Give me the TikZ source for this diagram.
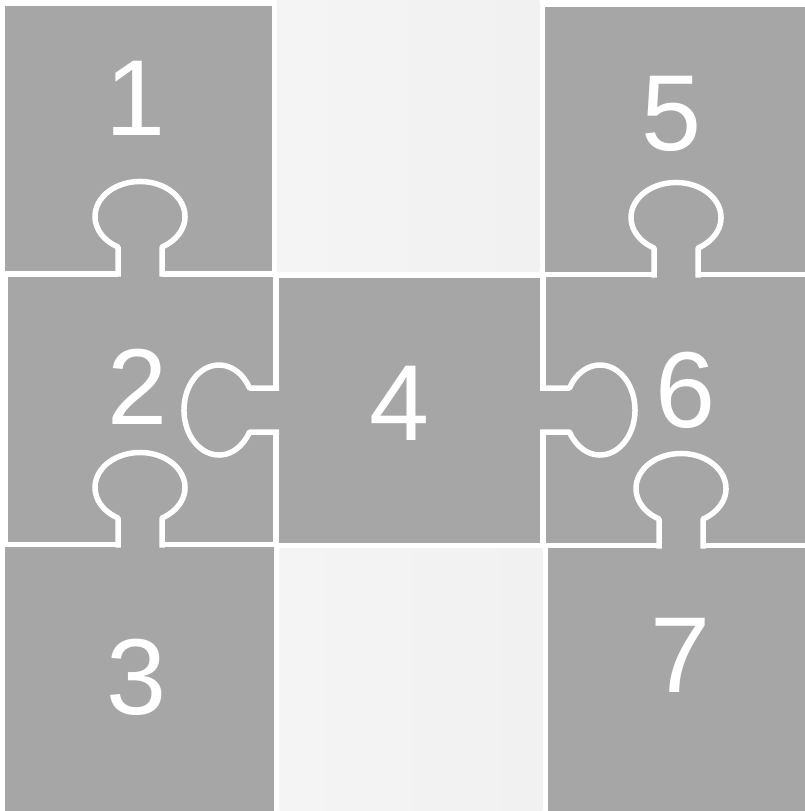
\documentclass[tikz,border=0pt]{standalone}
\usepackage{fontspec}
\newfontfamily\numfamily{Liberation Sans}
\definecolor{pieceGray}{HTML}{A6A6A6}
\definecolor{emptyL}{HTML}{F4F4F4}
\definecolor{emptyR}{HTML}{F1F1F1}
\tikzset{
  piecefill/.style={fill=pieceGray},
  emptycell/.style={left color=emptyL, right color=emptyR, draw=none, rounded corners=2pt},
  tabline/.style={draw=white, line width=5.5pt, line join=round},
  num/.style={text=white, inner sep=0pt, font=\numfamily\fontsize{108}{108}\selectfont},
  tabup/.pic={
    \fill[piecefill] (-22,8) -- (-22,-26.5) arc[start angle=119.3,end angle=420.7,x radius=45,y radius=35] -- (22,8) -- cycle;
    \draw[tabline] (-22,3) -- (-22,-26.5) arc[start angle=119.3,end angle=420.7,x radius=45,y radius=35] -- (22,3);
  },
  tableft/.pic={
    \fill[piecefill] (8,-22) -- (-26.5,-22) arc[start angle=330.7,end angle=29.3,x radius=35,y radius=45] -- (8,22) -- cycle;
    \draw[tabline] (3,-22) -- (-26.5,-22) arc[start angle=330.7,end angle=29.3,x radius=35,y radius=45] -- (3,22);
  },
  tabright/.pic={
    \fill[piecefill] (-8,-22) -- (26.5,-22) arc[start angle=209.3,end angle=510.7,x radius=35,y radius=45] -- (-8,22) -- cycle;
    \draw[tabline] (-3,-22) -- (26.5,-22) arc[start angle=209.3,end angle=510.7,x radius=35,y radius=45] -- (-3,22);
  }
}
\begin{document}
\begin{tikzpicture}[x=1pt,y=-1pt]
\useasboundingbox (0,0) rectangle (805,811);
\fill[white] (0,0) rectangle (805,811);
\clip (0,0) rectangle (805,811);
% empty cells
\shade[emptycell] (277,0) rectangle (540,272);
\shade[emptycell] (279,548) rectangle (543,811);
% pieces
\fill[piecefill] (5,6) rectangle (272,271);     % 1
\fill[piecefill] (545,7) rectangle (805,272);   % 5
\fill[piecefill] (8,277) rectangle (273,542);   % 2
\fill[piecefill] (279,278) rectangle (540,543); % 4
\fill[piecefill] (546,277) rectangle (805,543); % 6
\fill[piecefill] (5,547) rectangle (274,811);   % 3
\fill[piecefill] (548,548) rectangle (805,811); % 7
% tabs
\pic at (140,273.5) {tabup};
\pic at (140,544.5) {tabup};
\pic at (676,274.5) {tabup};
\pic at (681,545.5) {tabup};
\pic at (276,410) {tableft};
\pic at (543,410) {tabright};
% numbers
\node[num] (n1) at (136,98) {1};
\node[num] (n5) at (672,114) {5};
\node[num] (n2) at (138,387) {2};
\node[num] (n4) at (400,403) {4};
\node[num] (n6) at (686,390) {6};
\node[num] (n3) at (137,677) {3};
\node[num] (n7) at (681,655) {7};
\end{tikzpicture}
\end{document}
